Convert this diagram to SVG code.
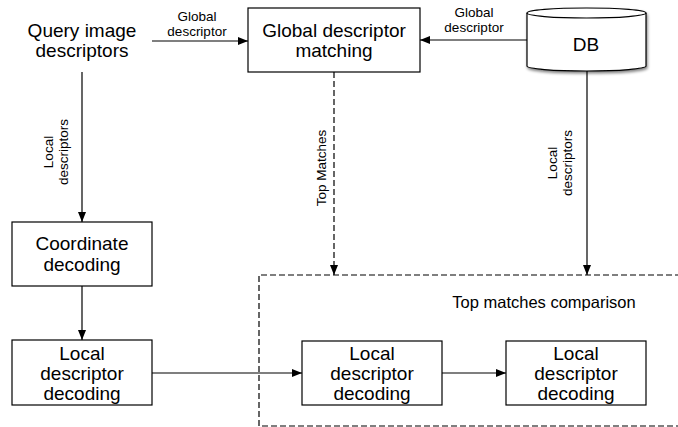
<svg xmlns="http://www.w3.org/2000/svg" width="678" height="427" viewBox="0 0 678 427">
<style>
text{font-family:"Liberation Sans",Arial,sans-serif;fill:#000}
.big{font-size:19px;text-anchor:middle}
.lbl{font-size:13.5px;text-anchor:middle}
.box{fill:#fff;stroke:#000;stroke-width:1.2}
.ln{fill:none;stroke:#000;stroke-width:1.2}
.dash{fill:none;stroke:#000;stroke-width:1.2;stroke-dasharray:6 3}
</style>
<defs>
<marker id="ah" viewBox="0 0 10 10" refX="10" refY="5" markerWidth="10" markerHeight="10" markerUnits="userSpaceOnUse" orient="auto">
<path d="M0,1 L10,5 L0,9 z" fill="#000"/>
</marker>
<filter id="sh" x="-20%" y="-20%" width="140%" height="150%">
<feGaussianBlur in="SourceAlpha" stdDeviation="1.5"/>
<feOffset dx="1" dy="2" result="b"/>
<feComponentTransfer><feFuncA type="linear" slope="0.5"/></feComponentTransfer>
<feMerge><feMergeNode/><feMergeNode in="SourceGraphic"/></feMerge>
</filter>
</defs>

<g id="connectors">
<line class="ln" x1="152" y1="41" x2="248" y2="41" marker-end="url(#ah)"/>
<line class="ln" x1="527" y1="40" x2="420" y2="40" marker-end="url(#ah)"/>
<line class="ln" x1="82" y1="72" x2="82" y2="222" marker-end="url(#ah)"/>
<line class="ln" x1="82" y1="286" x2="82" y2="340" marker-end="url(#ah)"/>
<line class="ln" x1="152" y1="373" x2="302" y2="373" marker-end="url(#ah)"/>
<line class="ln" x1="442" y1="373" x2="506" y2="373" marker-end="url(#ah)"/>
<line class="ln" x1="587" y1="71" x2="587" y2="275" marker-end="url(#ah)"/>
<line class="dash" x1="334" y1="72" x2="334" y2="275" stroke-dasharray="5 3" marker-end="url(#ah)"/>
<text class="lbl" x="197" y="21">Global</text>
<text class="lbl" x="197" y="36">descriptor</text>
<text class="lbl" x="474" y="17">Global</text>
<text class="lbl" x="474" y="32">descriptor</text>
<g transform="translate(53,152) rotate(-90)">
<text class="lbl" x="0" y="0">Local</text>
<text class="lbl" x="0" y="15">descriptors</text>
</g>
<g transform="translate(557,163) rotate(-90)">
<text class="lbl" x="0" y="0">Local</text>
<text class="lbl" x="0" y="15">descriptors</text>
</g>
<text class="lbl" transform="translate(326,168) rotate(-90)" x="0" y="0">Top Matches</text>
</g>

<g id="comparison-area">
<path class="dash" d="M690,275 H259 V426 H690"/>
<text x="544" y="308" style="font-size:16.5px;text-anchor:middle">Top matches comparison</text>
</g>

<g id="query">
<text class="big" x="82" y="37">Query image</text>
<text class="big" x="82" y="57">descriptors</text>
</g>

<g id="global-matching">
<rect class="box" x="248" y="8" width="172" height="64"/>
<text class="big" x="334" y="37">Global descriptor</text>
<text class="big" x="334" y="57">matching</text>
</g>

<g id="db">
<path class="box" filter="url(#sh)" d="M527,13 A59.5,5 0 0 1 646,13 V66 A59.5,5 0 0 1 527,66 Z"/>
<path class="ln" d="M527,13 A59.5,5 0 0 0 646,13"/>
<text class="big" x="586" y="51">DB</text>
</g>

<g id="coord-decoding">
<rect class="box" x="12" y="222" width="140" height="64"/>
<text class="big" x="82" y="250">Coordinate</text>
<text class="big" x="82" y="271">decoding</text>
</g>

<g id="ldd1">
<rect class="box" x="12" y="340" width="140" height="65"/>
<text class="big" x="82" y="360">Local</text>
<text class="big" x="82" y="380">descriptor</text>
<text class="big" x="82" y="400">decoding</text>
</g>

<g id="ldd2">
<rect class="box" x="302" y="341" width="140" height="64"/>
<text class="big" x="372" y="360">Local</text>
<text class="big" x="372" y="380">descriptor</text>
<text class="big" x="372" y="400">decoding</text>
</g>

<g id="ldd3">
<rect class="box" x="506" y="341" width="140" height="64"/>
<text class="big" x="576" y="360">Local</text>
<text class="big" x="576" y="380">descriptor</text>
<text class="big" x="576" y="400">decoding</text>
</g>
</svg>
